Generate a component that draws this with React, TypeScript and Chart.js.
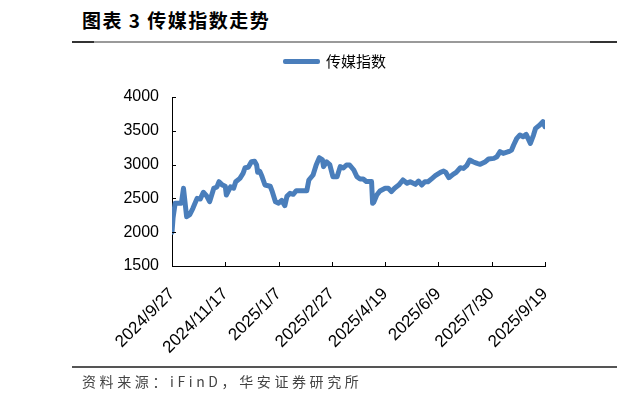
import React, { useEffect, useRef } from "react";
import { Chart, registerables } from "chart.js";

Chart.register(...registerables);

// Calendar-day offsets from 2024/9/27 and index values (传媒指数)
const dayOffsets: number[] = [
  0, 1, 3, 9, 11, 14, 17, 20, 24, 27, 30, 33, 36, 40, 43, 45, 48, 51, 52, 56,
  59, 61, 65, 68, 70, 73, 76, 79, 81, 82, 84, 86, 89, 94, 96, 99, 102, 105, 108, 110,
  113, 116, 119, 129, 131, 135, 138, 141, 144, 145, 148, 151, 154, 158, 161, 164, 167, 170, 174, 177,
  180, 183, 186, 191, 192, 193, 196, 199, 204, 207, 210, 213, 217, 221, 225, 228, 233, 236, 239, 242,
  245, 249, 252, 257, 260, 262, 265, 269, 272, 276, 279, 282, 285, 288, 292, 295, 300, 303, 308, 311,
  314, 317, 322, 325, 327, 330, 333, 336, 339, 343, 346, 348, 352, 355, 357,
];
const indexValues: number[] = [
  2000, 2210, 2427, 2430, 2649, 2230, 2260, 2353, 2500, 2490, 2590, 2540, 2451, 2649, 2670, 2747, 2700, 2680, 2550, 2670,
  2650, 2747, 2797, 2870, 2954, 2960, 3043, 3050, 2994, 2886, 2900, 2830, 2698, 2680, 2600, 2451, 2430, 2470, 2392, 2530,
  2575, 2560, 2614, 2614, 2772, 2846, 2994, 3102, 3070, 2970, 3040, 3000, 2821, 2821, 2970, 2950, 2994, 2994, 2920, 2820,
  2787, 2787, 2750, 2750, 2427, 2440, 2550, 2609, 2650, 2650, 2600, 2650, 2697, 2772, 2723, 2747, 2708, 2757, 2698, 2747,
  2747, 2797, 2836, 2885, 2905, 2885, 2806, 2856, 2885, 2954, 2944, 2984, 3068, 3043, 3018, 3004, 3043, 3083, 3092, 3117,
  3191, 3166, 3191, 3216, 3290, 3388, 3437, 3413, 3447, 3314, 3437, 3536, 3585, 3635, 3560,
];
const tickDays: number[] = [0, 51, 102, 153, 204, 255, 306, 357];
const tickLabels: string[] = [
  "2024/9/27", "2024/11/17", "2025/1/7", "2025/2/27", "2025/4/19", "2025/6/9", "2025/7/30", "2025/9/19",
];
const seriesName = "传媒指数";
const lineColor = "#4A7EBB";

const innerTicks = {
  id: "innerTicks",
  afterDraw(chart: any) {
    const { ctx, chartArea, scales } = chart;
    ctx.save();
    ctx.strokeStyle = "#000";
    ctx.lineWidth = 1;
    scales.y.ticks.forEach((t: any) => {
      const y = Math.round(scales.y.getPixelForValue(t.value)) + 0.5;
      ctx.beginPath();
      ctx.moveTo(chartArea.left, y);
      ctx.lineTo(chartArea.left + 4, y);
      ctx.stroke();
    });
    scales.x.ticks.forEach((t: any) => {
      const x = Math.round(scales.x.getPixelForValue(t.value)) + 0.5;
      ctx.beginPath();
      ctx.moveTo(x, chartArea.bottom);
      ctx.lineTo(x, chartArea.bottom - 4);
      ctx.stroke();
    });
    ctx.restore();
  },
};

export default function App() {
  const ref = useRef<HTMLCanvasElement>(null);
  useEffect(() => {
    if (!ref.current) return;
    const chart = new Chart(ref.current, {
      type: "line",
      data: {
        datasets: [
          {
            label: seriesName,
            data: dayOffsets.map((d, i) => ({ x: d, y: indexValues[i] })),
            borderColor: lineColor,
            backgroundColor: lineColor,
            borderWidth: 5,
            pointRadius: 0,
            tension: 0,
            borderJoinStyle: "round",
            borderCapStyle: "round",
          },
        ],
      },
      options: {
        animation: false,
        responsive: false,
        layout: { padding: { left: 0, right: 72, top: 97, bottom: 0 } },
        plugins: { legend: { display: false }, tooltip: { enabled: false } },
        scales: {
          x: {
            type: "linear",
            min: 0,
            max: 357,
            afterBuildTicks: (s: any) => {
              s.ticks = tickDays.map((v) => ({ value: v }));
            },
            afterFit: (s: any) => {
              s.height = 132;
            },
            grid: { display: false, drawTicks: false },
            border: { display: true, color: "#000", width: 1 },
            ticks: {
              autoSkip: false,
              minRotation: 45,
              maxRotation: 45,
              padding: 18,
              color: "#000",
              font: { family: "'Liberation Sans', Arial, sans-serif", size: 17 },
              callback: (v: any) => {
                const i = tickDays.indexOf(Number(v));
                return i >= 0 ? tickLabels[i] : "";
              },
            },
          },
          y: {
            min: 1500,
            max: 4000,
            afterFit: (s: any) => {
              s.width = 172;
            },
            grid: { display: false, drawTicks: false },
            border: { display: true, color: "#000", width: 1 },
            ticks: {
              stepSize: 500,
              padding: 13,
              color: "#000",
              font: { family: "'Liberation Sans', Arial, sans-serif", size: 16 },
              callback: (v: any) => String(v),
            },
          },
        },
      },
      plugins: [innerTicks],
    });
    return () => chart.destroy();
  }, []);

  return (
    <div style={{ position: "fixed", left: 0, top: 0, width: 617, height: 398, background: "#fff", overflow: "hidden" }}>
      <div
        style={{
          position: "absolute", left: 82, top: 6, fontFamily: "'Noto Sans CJK SC', sans-serif",
          fontWeight: 700, fontSize: 19, letterSpacing: 1.5, color: "#000", whiteSpace: "nowrap",
        }}
      >
        图表 3 传媒指数走势
      </div>
      <div style={{ position: "absolute", left: 72, top: 41, width: 545, height: 2, background: "#9a9a9a" }} />
      <div style={{ position: "absolute", left: 72, top: 41, width: 22, height: 2, background: "#333" }} />
      <div style={{ position: "absolute", left: 590, top: 41, width: 27, height: 2, background: "#333" }} />
      <canvas ref={ref} width={617} height={398} style={{ position: "absolute", left: 0, top: 0, width: 617, height: 398 }} />
      <div style={{ position: "absolute", left: 283, top: 59, width: 37, height: 5, background: lineColor, borderRadius: 2 }} />
      <div
        style={{
          position: "absolute", left: 326, top: 50, fontFamily: "'Noto Sans CJK SC', sans-serif",
          fontSize: 15, color: "#000", whiteSpace: "nowrap",
        }}
      >
        {seriesName}
      </div>
      <div style={{ position: "absolute", left: 72, top: 366, width: 545, height: 2, background: "#555" }} />
      <div
        style={{
          position: "absolute", left: 82, top: 371, fontFamily: "'Noto Sans CJK SC', sans-serif",
          fontSize: 14, letterSpacing: 3.6, color: "#444", whiteSpace: "nowrap",
        }}
      >
        资料来源：iFinD，华安证券研究所
      </div>
    </div>
  );
}
